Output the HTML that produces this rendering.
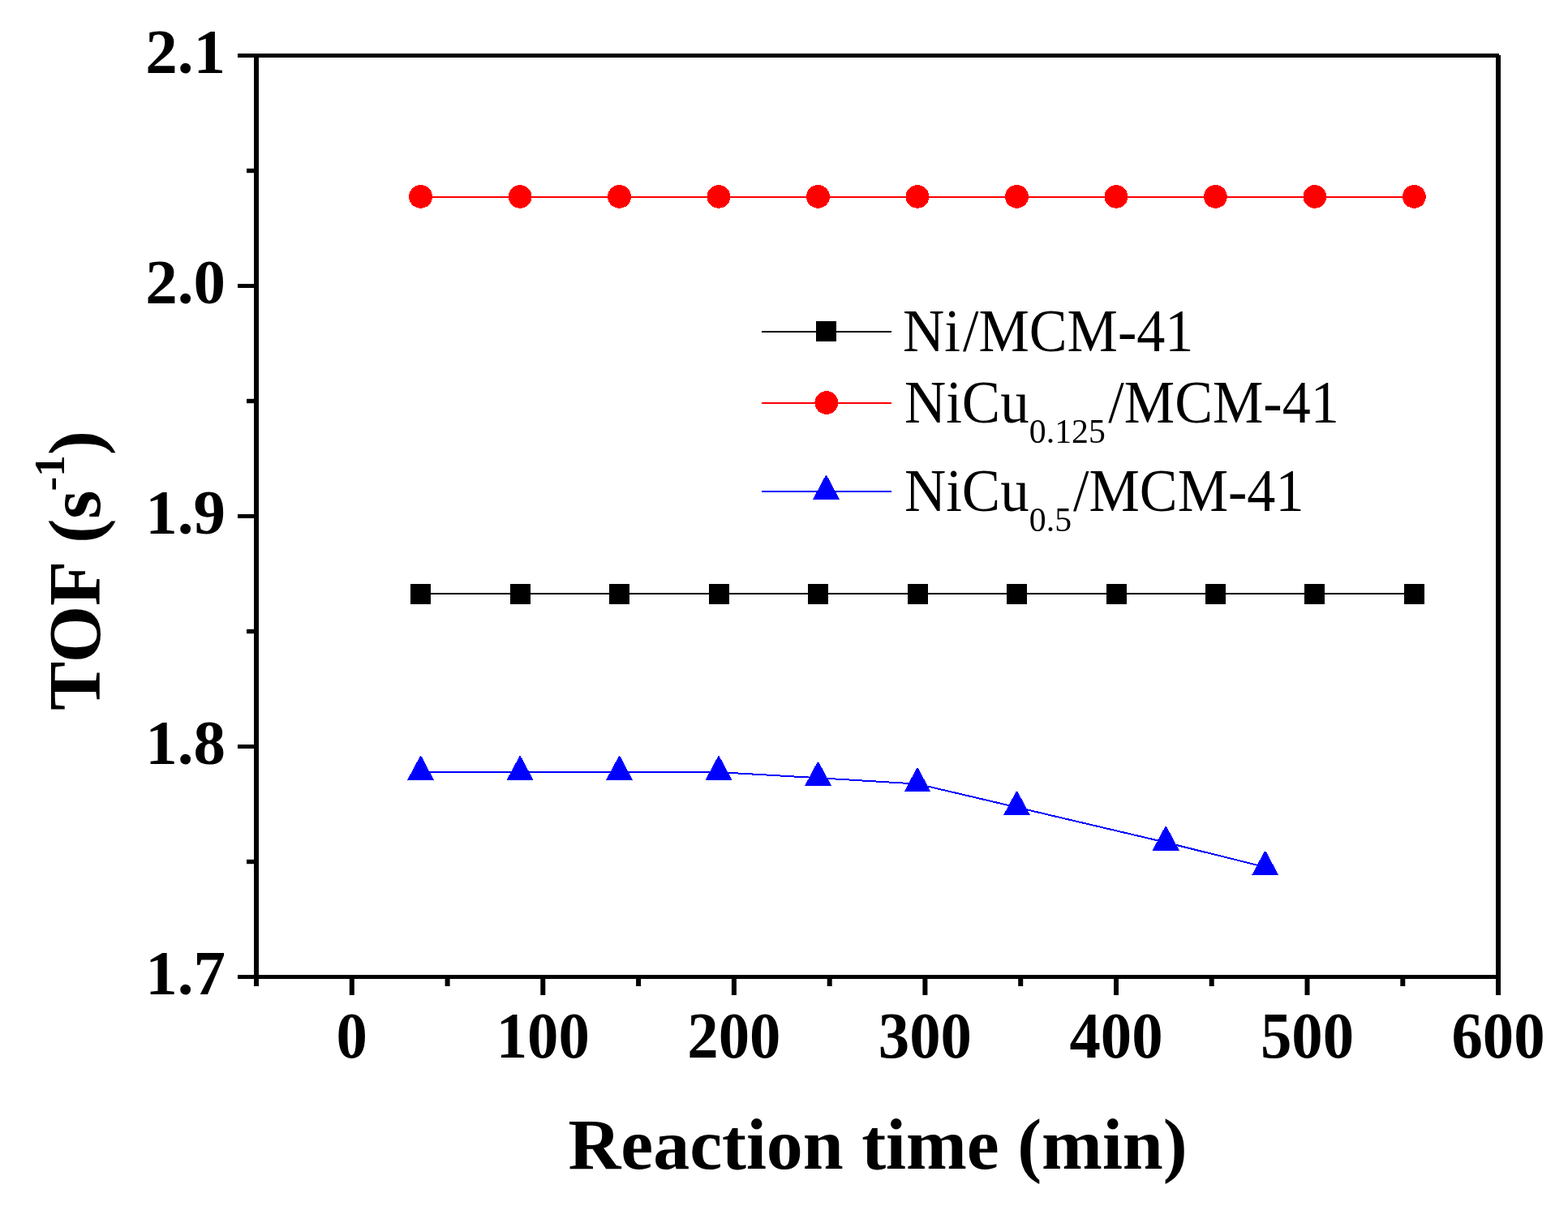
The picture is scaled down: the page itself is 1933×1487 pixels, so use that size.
<!DOCTYPE html>
<html><head><meta charset="utf-8"><title>TOF vs Reaction time</title>
<style>html,body{margin:0;padding:0;background:#fff;width:1933px;height:1487px;overflow:hidden}svg{display:block}</style>
</head><body>
<svg width="1933" height="1487" viewBox="0 0 1933 1487">
<rect x="0" y="0" width="1933" height="1487" fill="#fff"/>
<g fill="#000">
<rect x="313" y="66" width="6" height="1150"/>
<rect x="1844" y="68" width="6" height="1139"/>
<rect x="293" y="66" width="1555" height="5"/>
<rect x="293" y="1202" width="1557" height="5"/>
<rect x="293" y="918.0" width="20" height="5"/>
<rect x="293" y="634.0" width="20" height="5"/>
<rect x="293" y="350.0" width="20" height="5"/>
<rect x="304" y="1059.8" width="9" height="5.4"/>
<rect x="304" y="775.8" width="9" height="5.4"/>
<rect x="304" y="491.8" width="9" height="5.4"/>
<rect x="304" y="207.8" width="9" height="5.4"/>
<rect x="430.8" y="1207" width="6" height="20"/>
<rect x="666.3" y="1207" width="6" height="20"/>
<rect x="901.9" y="1207" width="6" height="20"/>
<rect x="1137.4" y="1207" width="6" height="20"/>
<rect x="1373.0" y="1207" width="6" height="20"/>
<rect x="1608.5" y="1207" width="6" height="20"/>
<rect x="1844.0" y="1207" width="6" height="20"/>
<rect x="548.6" y="1207" width="6" height="9"/>
<rect x="784.1" y="1207" width="6" height="9"/>
<rect x="1019.7" y="1207" width="6" height="9"/>
<rect x="1255.2" y="1207" width="6" height="9"/>
<rect x="1490.7" y="1207" width="6" height="9"/>
<rect x="1726.3" y="1207" width="6" height="9"/>
</g>
<g font-family="Liberation Serif, serif" font-weight="bold" font-size="79" fill="#000">
<text x="278" y="90.0" text-anchor="end" fill="#000">2.1</text>
<text x="278" y="374.0" text-anchor="end" fill="#000">2.0</text>
<text x="278" y="658.0" text-anchor="end" fill="#000">1.9</text>
<text x="278" y="942.0" text-anchor="end" fill="#000">1.8</text>
<text x="278" y="1226.0" text-anchor="end" fill="#000">1.7</text>
</g>
<g font-family="Liberation Serif, serif" font-weight="bold" font-size="80" fill="#000">
<text transform="translate(433.8,1303.5) scale(0.96,1)" text-anchor="middle" fill="#000">0</text>
<text transform="translate(669.3,1303.5) scale(0.96,1)" text-anchor="middle" fill="#000">100</text>
<text transform="translate(904.9,1303.5) scale(0.96,1)" text-anchor="middle" fill="#000">200</text>
<text transform="translate(1140.4,1303.5) scale(0.96,1)" text-anchor="middle" fill="#000">300</text>
<text transform="translate(1376.0,1303.5) scale(0.96,1)" text-anchor="middle" fill="#000">400</text>
<text transform="translate(1611.5,1303.5) scale(0.96,1)" text-anchor="middle" fill="#000">500</text>
<text transform="translate(1847.0,1303.5) scale(0.96,1)" text-anchor="middle" fill="#000">600</text>
</g>
<text transform="translate(700.5,1440.9) scale(1.0093,1.01)" font-family="Liberation Serif, serif" font-weight="bold" font-size="89" fill="#000">Reaction time (min)</text>
<text transform="translate(122.9,876) rotate(-90)" font-family="Liberation Serif, serif" font-weight="bold" font-size="90.5" fill="#000">TOF <tspan dx="2.5">(s</tspan><tspan dx="-1" dy="-44.3" font-size="53" fill="#000">-1</tspan><tspan dx="0" dy="44.3" fill="#000">)</tspan></text>
<polyline points="518.6,242.5 641.1,242.5 763.6,242.5 886.0,242.5 1008.5,242.5 1131.0,242.5 1253.5,242.5 1376.0,242.5 1498.4,242.5 1620.9,242.5 1743.4,242.5" fill="none" stroke="#ff0000" stroke-width="2" shape-rendering="crispEdges"/>
<circle cx="518.6" cy="242.5" r="14.4" fill="#ff0000" shape-rendering="crispEdges"/>
<circle cx="641.1" cy="242.5" r="14.4" fill="#ff0000" shape-rendering="crispEdges"/>
<circle cx="763.6" cy="242.5" r="14.4" fill="#ff0000" shape-rendering="crispEdges"/>
<circle cx="886.0" cy="242.5" r="14.4" fill="#ff0000" shape-rendering="crispEdges"/>
<circle cx="1008.5" cy="242.5" r="14.4" fill="#ff0000" shape-rendering="crispEdges"/>
<circle cx="1131.0" cy="242.5" r="14.4" fill="#ff0000" shape-rendering="crispEdges"/>
<circle cx="1253.5" cy="242.5" r="14.4" fill="#ff0000" shape-rendering="crispEdges"/>
<circle cx="1376.0" cy="242.5" r="14.4" fill="#ff0000" shape-rendering="crispEdges"/>
<circle cx="1498.4" cy="242.5" r="14.4" fill="#ff0000" shape-rendering="crispEdges"/>
<circle cx="1620.9" cy="242.5" r="14.4" fill="#ff0000" shape-rendering="crispEdges"/>
<circle cx="1743.4" cy="242.5" r="14.4" fill="#ff0000" shape-rendering="crispEdges"/>
<polyline points="518.6,732.4 641.1,732.4 763.6,732.4 886.0,732.4 1008.5,732.4 1131.0,732.4 1253.5,732.4 1376.0,732.4 1498.4,732.4 1620.9,732.4 1743.4,732.4" fill="none" stroke="#000" stroke-width="2" shape-rendering="crispEdges"/>
<rect x="506.1" y="719.9" width="25" height="25" fill="#000" shape-rendering="crispEdges"/>
<rect x="628.6" y="719.9" width="25" height="25" fill="#000" shape-rendering="crispEdges"/>
<rect x="751.1" y="719.9" width="25" height="25" fill="#000" shape-rendering="crispEdges"/>
<rect x="873.5" y="719.9" width="25" height="25" fill="#000" shape-rendering="crispEdges"/>
<rect x="996.0" y="719.9" width="25" height="25" fill="#000" shape-rendering="crispEdges"/>
<rect x="1118.5" y="719.9" width="25" height="25" fill="#000" shape-rendering="crispEdges"/>
<rect x="1241.0" y="719.9" width="25" height="25" fill="#000" shape-rendering="crispEdges"/>
<rect x="1363.5" y="719.9" width="25" height="25" fill="#000" shape-rendering="crispEdges"/>
<rect x="1485.9" y="719.9" width="25" height="25" fill="#000" shape-rendering="crispEdges"/>
<rect x="1608.4" y="719.9" width="25" height="25" fill="#000" shape-rendering="crispEdges"/>
<rect x="1730.9" y="719.9" width="25" height="25" fill="#000" shape-rendering="crispEdges"/>
<polyline points="518.6,952.1 641.1,952.1 763.6,952.1 886.0,952.1 1008.5,959.2 1131.0,966.6 1253.5,995.4 1437.2,1038.7 1559.7,1069.2" fill="none" stroke="#0000ff" stroke-width="2" shape-rendering="crispEdges"/>
<polygon points="517.8,932.4 519.4,932.4 535.1,961.9 502.1,961.9" fill="#0000ff" shape-rendering="crispEdges"/>
<polygon points="640.3,932.4 641.9,932.4 657.6,961.9 624.6,961.9" fill="#0000ff" shape-rendering="crispEdges"/>
<polygon points="762.8,932.4 764.4,932.4 780.1,961.9 747.1,961.9" fill="#0000ff" shape-rendering="crispEdges"/>
<polygon points="885.2,932.4 886.8,932.4 902.5,961.9 869.5,961.9" fill="#0000ff" shape-rendering="crispEdges"/>
<polygon points="1007.7,939.5 1009.3,939.5 1025.0,969.0 992.0,969.0" fill="#0000ff" shape-rendering="crispEdges"/>
<polygon points="1130.2,946.9 1131.8,946.9 1147.5,976.4 1114.5,976.4" fill="#0000ff" shape-rendering="crispEdges"/>
<polygon points="1252.7,975.7 1254.3,975.7 1270.0,1005.2 1237.0,1005.2" fill="#0000ff" shape-rendering="crispEdges"/>
<polygon points="1436.4,1019.0 1438.0,1019.0 1453.7,1048.5 1420.7,1048.5" fill="#0000ff" shape-rendering="crispEdges"/>
<polygon points="1558.9,1049.5 1560.5,1049.5 1576.2,1079.0 1543.2,1079.0" fill="#0000ff" shape-rendering="crispEdges"/>
<line x1="939" y1="409" x2="1099" y2="409" stroke="#000" stroke-width="2"/>
<rect x="1006" y="396" width="25" height="25" fill="#000" shape-rendering="crispEdges"/>
<line x1="939" y1="497" x2="1099" y2="497" stroke="#ff0000" stroke-width="2"/>
<circle cx="1018.8" cy="496.6" r="14.4" fill="#ff0000" shape-rendering="crispEdges"/>
<line x1="939" y1="606" x2="1099" y2="606" stroke="#0000ff" stroke-width="2"/>
<polygon points="1017.7,586.3 1019.3,586.3 1035.0,615.8 1002.0,615.8" fill="#0000ff" shape-rendering="crispEdges"/>
<g font-family="Liberation Serif, serif">
<text transform="translate(1112.9,432.9) scale(0.972,1)" font-size="73" fill="#000">Ni</text>
<text transform="translate(1186.9,432.9) scale(0.961,1)" font-size="73" fill="#000">/MCM-41</text>
<text transform="translate(1114.9,521.0) scale(0.972,1)" font-size="73" fill="#000">NiCu</text>
<text transform="translate(1268.8,545.8) scale(0.972,1)" font-size="43" fill="#000">0.125</text>
<text transform="translate(1366.3,521.0) scale(0.961,1)" font-size="73" fill="#000">/MCM-41</text>
<text transform="translate(1114.9,630.2) scale(0.972,1)" font-size="73" fill="#000">NiCu</text>
<text transform="translate(1268.8,655.1) scale(0.972,1)" font-size="43" fill="#000">0.5</text>
<text transform="translate(1323.0,630.2) scale(0.961,1)" font-size="73" fill="#000">/MCM-41</text>
</g>
</svg>
</body></html>
